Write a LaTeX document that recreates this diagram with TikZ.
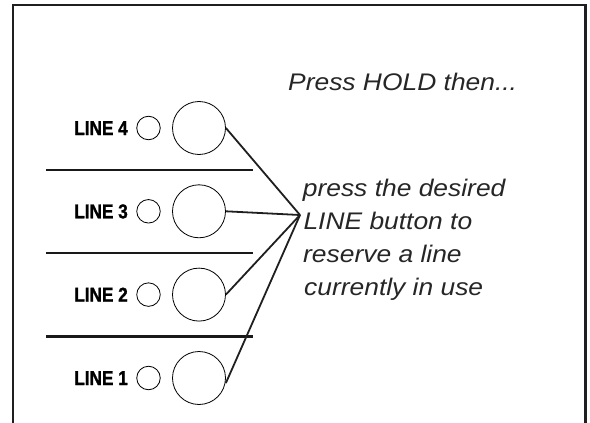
\documentclass[tikz,border=0pt]{standalone}
\usepackage{fontspec}
\setmainfont{Liberation Sans}
\newfontfamily\bodyfont[FakeStretch=1.1]{Liberation Sans Italic}
\newfontfamily\labelfont[FakeStretch=0.86,FakeBold=1.2]{Liberation Sans Bold}
\begin{document}
\begin{tikzpicture}[x=1pt,y=-1pt,
  frame/.style={line width=2.2pt, draw=black!88},
  sep/.style={line width=2.4pt, draw=black!90},
  lamp/.style={circle, draw, line width=0.8pt, minimum size=23.5pt, inner sep=0pt},
  btn/.style={circle, draw, line width=0.8pt, minimum size=53pt, inner sep=0pt},
  lbl/.style={font=\labelfont\fontsize{20}{20}\selectfont, anchor=base east, inner sep=0pt},
  txt/.style={font=\bodyfont\fontsize{24}{24}\selectfont, anchor=base west, inner sep=0pt, text=black!85},
  conn/.style={line width=1.8pt, draw=black!88}]
\useasboundingbox (0,0) rectangle (590,423);
% frame (open at the bottom)
\draw[frame] (13,424) -- (13,4.7) -- (585.5,4.7) -- (585.5,424);
% header text
\node[txt] (hold) at (288,90.7) {Press HOLD then...};
% rows
\foreach \n/\y in {4/128,3/211.3,2/294.6,1/378}{
  \node[lbl] (l\n) at (128,\y+7) {LINE \n};
  \node[lamp] (s\n) at (148.5,\y) {};
  \node[btn] (b\n) at (199,\y) {};
}
% separators
\coordinate (p1a) at (46,170);   \coordinate (p1b) at (252.7,170);
\coordinate (p2a) at (46,253);   \coordinate (p2b) at (252.7,253);
\coordinate (p3a) at (46,336.5); \coordinate (p3b) at (252.7,336.5);
\draw[sep] (p1a) -- (p1b);
\draw[sep] (p2a) -- (p2b);
\draw[sep] (p3a) -- (p3b);
% connectors
\coordinate (hub) at (300,215);
\draw[conn] (b4.east) -- (hub);
\draw[conn] (b3.east) -- (hub);
\draw[conn] (b2.east) -- (hub);
\draw[conn] ([yshift=-5pt]b1.east) -- (hub);
% explanatory text
\node[txt] (t1) at (302.7,196) {press the desired};
\node[txt] (t2) at (303.3,229) {LINE button to};
\node[txt] (t3) at (303,262) {reserve a line};
\node[txt] (t4) at (304,295) {currently in use};
\end{tikzpicture}
\end{document}
